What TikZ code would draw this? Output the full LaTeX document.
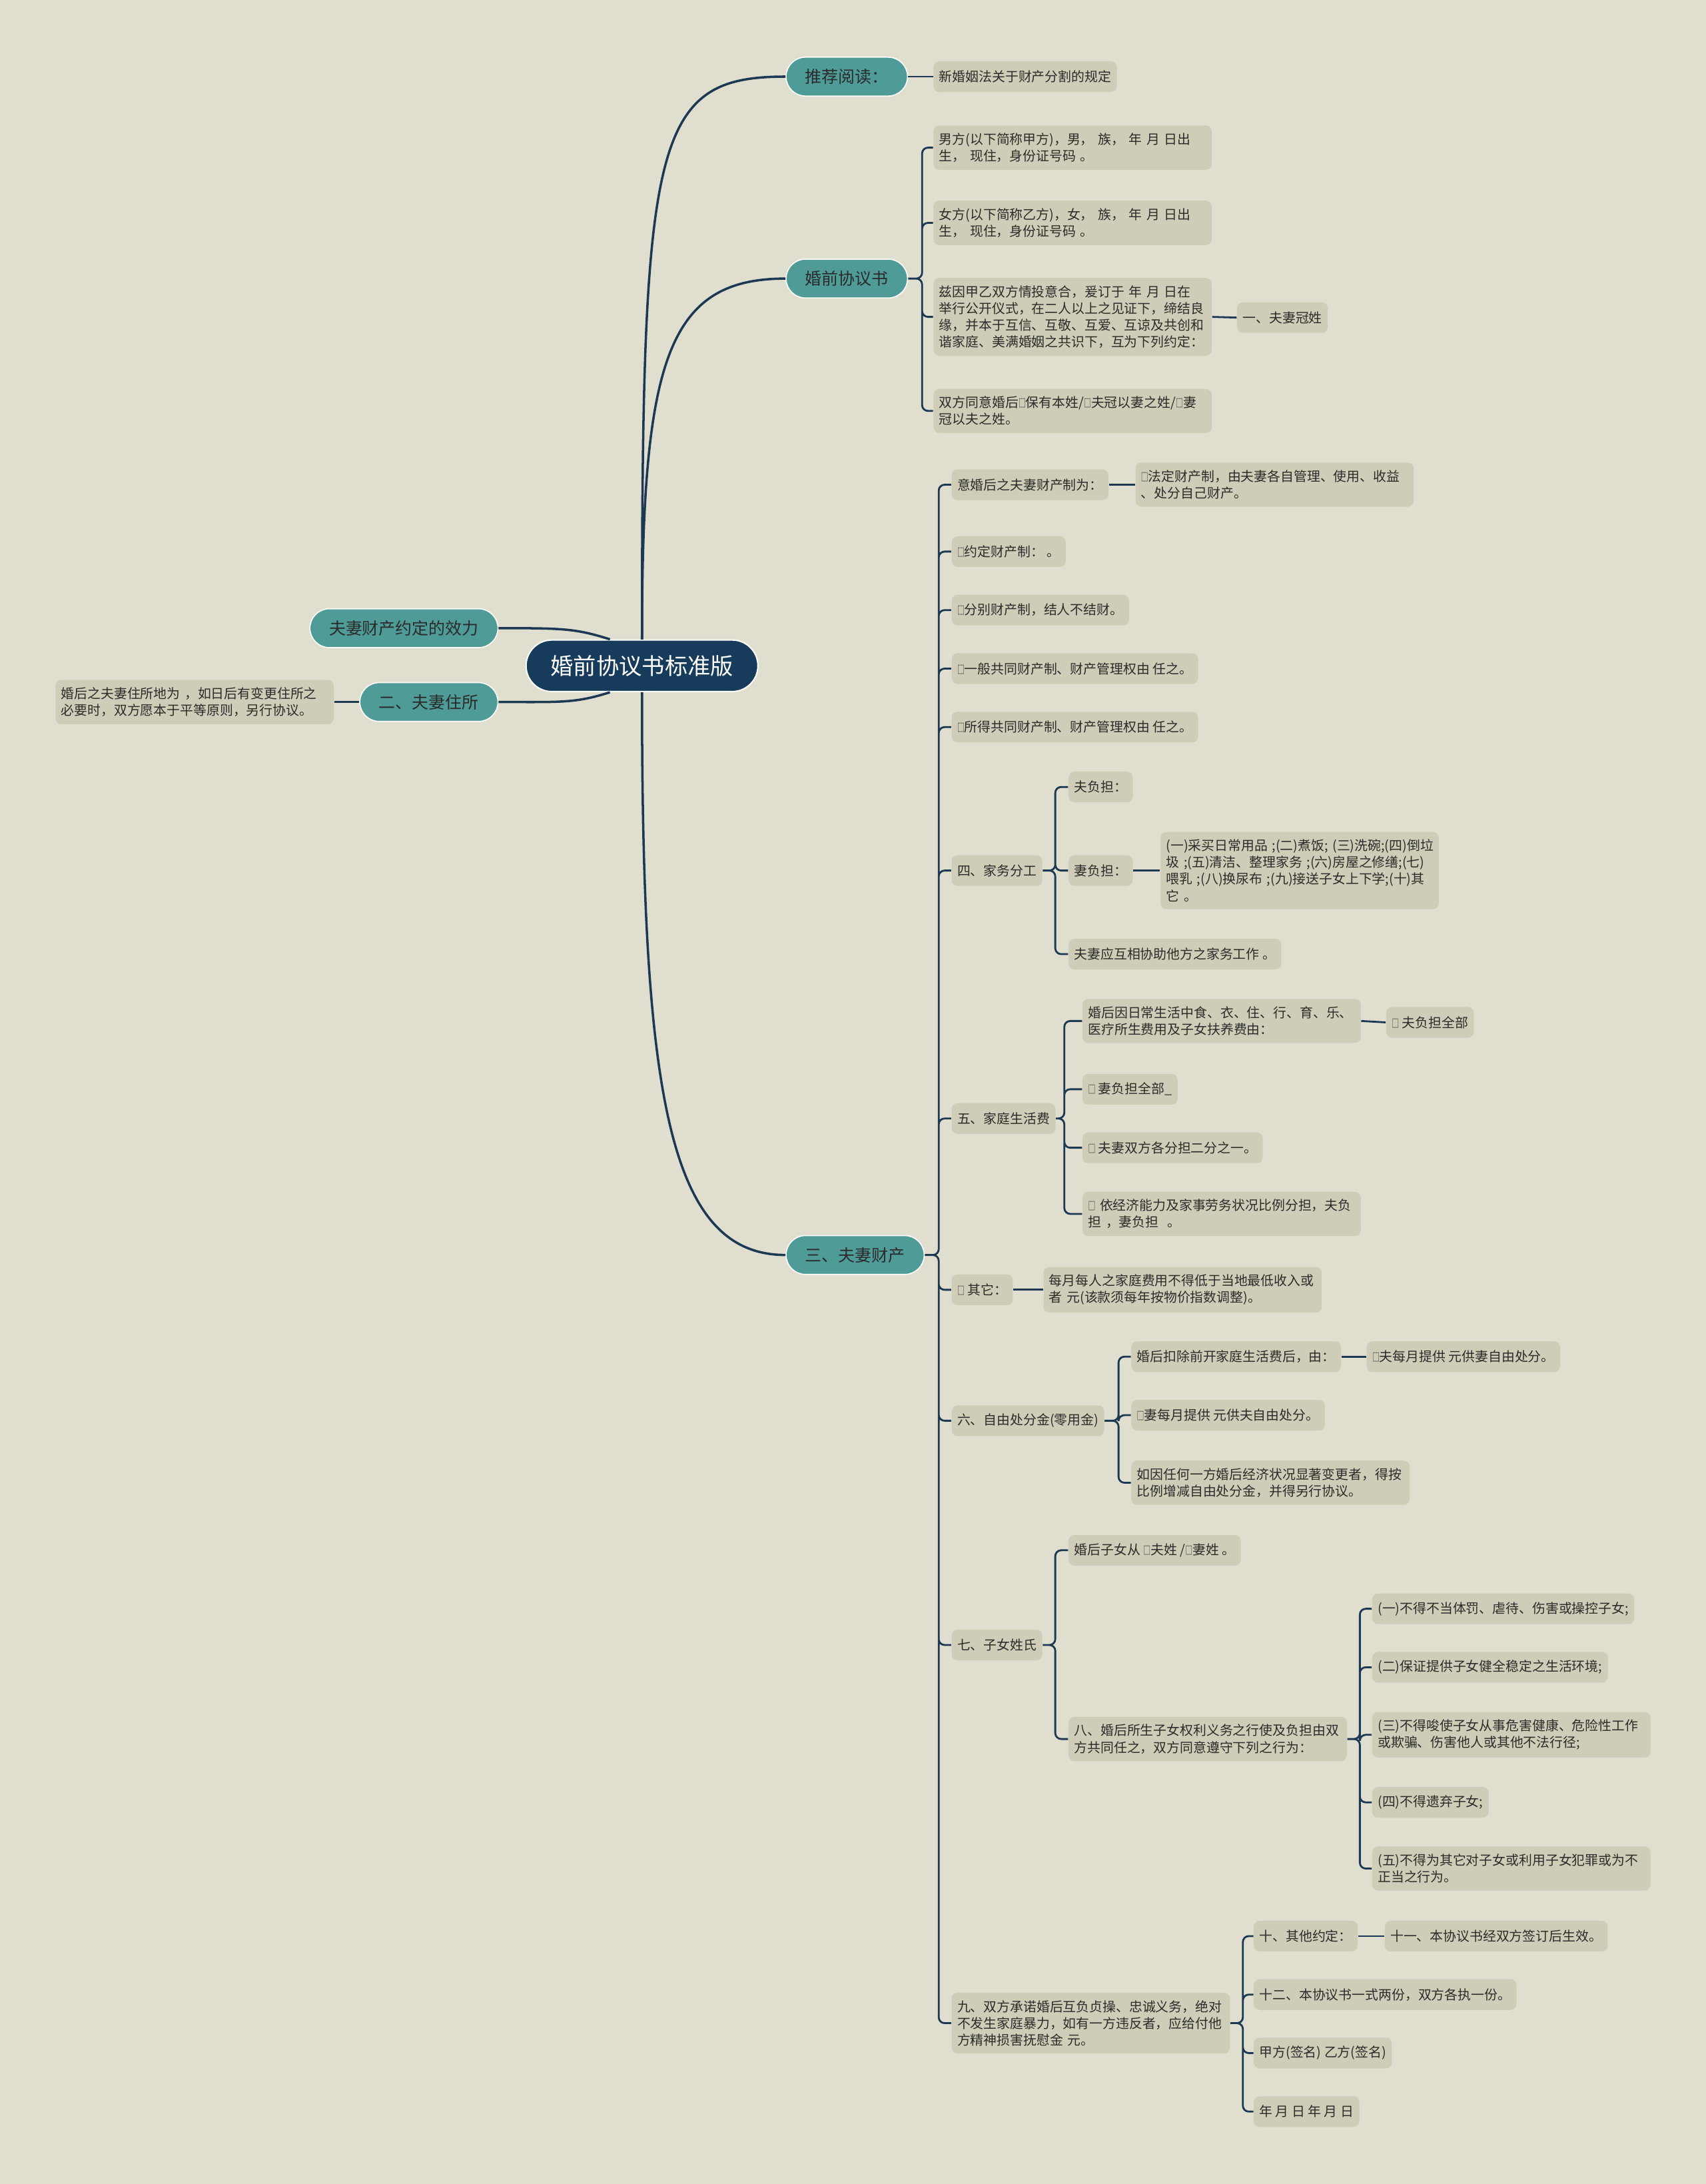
\documentclass[tikz,border=0pt]{standalone}
\usepackage{fontspec}
\setmainfont{Noto Sans CJK SC}
\usepackage{xcolor}
\usepackage{graphicx}
\usetikzlibrary{positioning}

\definecolor{paper}{HTML}{E0DFCF}
\definecolor{leafbg}{HTML}{CFCDB7}
\definecolor{topicbg}{HTML}{4E9B98}
\definecolor{navy}{HTML}{173B5B}
\definecolor{wire}{HTML}{1D3853}
\definecolor{ink}{HTML}{2B2B2B}

% 勾选框
\newcommand{\tickbox}{\scalebox{0.55}[0.85]{□}}

\begin{document}
\begin{tikzpicture}[x=0.5946pt, y=-0.5946pt]
    % ================= 样式定义 =================
    \tikzset{
        % 根节点:深蓝胶囊
        rootnode/.style={rounded corners=11pt, fill=navy, draw=white!85!paper, line width=0.6pt,
            text=white, font=\fontsize{9.75}{11}\selectfont, minimum height=22pt, inner xsep=10.5pt},
        % 主题:青色胶囊
        topic/.style={rounded corners=8.3pt, fill=topicbg, draw=white!80!paper, line width=0.5pt,
            text=ink, font=\fontsize{7.1}{8.5}\selectfont, minimum height=16.6pt, inner xsep=8.2pt},
        % 叶子:灰绿圆角框
        leaf/.style={rounded corners=2.5pt, fill=leafbg, text=ink, align=left,
            font=\fontsize{5.65}{7.14}\selectfont, minimum height=13.1pt, inner xsep=2.4pt, inner ysep=3.2pt},
        wide/.style={leaf, text width=114pt},
        % 连线
        link/.style={draw=wire, line width=0.8pt, rounded corners=2.5pt},
        trunk/.style={draw=wire, line width=1pt}
    }

    % ================= 0. 画布 =================
    \fill[paper] (0,0) rectangle (1225,1568);
    \useasboundingbox (0,0) rectangle (1225,1568);

    % ================= 1. 根节点与主题 =================
    \node[rootnode] (root) at (461,478) {婚前协议书标准版};
    \node[topic, anchor=west] (read) at (564,55) {推荐阅读：};
    \node[topic, anchor=west] (pre) at (564,200) {婚前协议书};
    \node[topic, anchor=west] (prop) at (564,901) {三、夫妻财产};
    \node[topic, anchor=east] (eff) at (358,451) {夫妻财产约定的效力};
    \node[topic, anchor=east] (home) at (358,504) {二、夫妻住所};

    \draw[trunk] (root.north) .. controls +(0,-360) and +(-95,0) .. (read.west);
    \draw[trunk] (root.north) .. controls +(0,-200) and +(-85,0) .. (pre.west);
    \draw[trunk] (root.south) .. controls +(0,285) and +(-85,0) .. (prop.west);
    \draw[trunk] (eff.east) .. controls +(45,0) and +(-25,-8) .. ([xshift=-13.7pt]root.north);
    \draw[trunk] (home.east) .. controls +(45,0) and +(-25,8) .. ([xshift=-13.7pt]root.south);

    % ================= 2. 推荐阅读 / 夫妻住所 =================
    \node[leaf, anchor=west] (readA) at (670,55) {新婚姻法关于财产分割的规定};
    \draw[link] (read.east) -- (readA.west);

    \node[wide, anchor=east] (homeA) at (240,504) {婚后之夫妻住所地为 ，如日后有变更住所之\\必要时，双方愿本于平等原则，另行协议。};
    \draw[link] (home.west) -- (homeA.east);

    % ================= 3. 婚前协议书 =================
    \node[wide, anchor=west] (preA) at (670,106) {男方(以下简称甲方)，男，\ 族，\ 年 月 日出\\生，\ 现住，身份证号码 。};
    \node[wide, anchor=west] (preB) at (670,160) {女方(以下简称乙方)，女，\ 族，\ 年 月 日出\\生，\ 现住，身份证号码 。};
    \node[wide, anchor=west] (preC) at (670,227.5) {兹因甲乙双方情投意合，爰订于 年 月 日在\\举行公开仪式，在二人以上之见证下，缔结良\\缘，并本于互信、互敬、互爱、互谅及共创和\\谐家庭、美满婚姻之共识下，互为下列约定：};
    \node[wide, anchor=west] (preD) at (670,295) {双方同意婚后\tickbox 保有本姓/\tickbox 夫冠以妻之姓/\tickbox 妻\\冠以夫之姓。};
    \node[leaf, anchor=west] (preC1) at (888,228) {一、夫妻冠姓};

    \draw[link] (pre.east) -- ++(10,0) |- (preA.west)
                (pre.east) -- ++(10,0) |- (preB.west)
                (pre.east) -- ++(10,0) |- (preC.west)
                (pre.east) -- ++(10,0) |- (preD.west);
    \draw[link] (preC.east) -- (preC1.west);

    % ================= 4. 夫妻财产 =================
    \node[leaf, anchor=west] (sys) at (683,348) {意婚后之夫妻财产制为：};
    \node[wide, anchor=west] (sysA) at (815,348) {\tickbox 法定财产制，由夫妻各自管理、使用、收益\\、处分自己财产。};
    \node[leaf, anchor=west] (agree) at (683,396) {\tickbox 约定财产制：\ 。};
    \node[leaf, anchor=west] (sep) at (683,438) {\tickbox 分别财产制，结人不结财。};
    \node[leaf, anchor=west] (gen) at (683,480) {\tickbox 一般共同财产制、财产管理权由 任之。};
    \node[leaf, anchor=west] (inc) at (683,522) {\tickbox 所得共同财产制、财产管理权由 任之。};

    % 四、家务分工
    \node[leaf, anchor=west] (chores) at (683,625) {四、家务分工};
    \node[leaf, anchor=west] (husb) at (767,565) {夫负担：};
    \node[leaf, anchor=west] (wife) at (767,625) {妻负担：};
    \node[wide, anchor=west] (wifeA) at (833,625) {(一)采买日常用品~;(二)煮饭;~(三)洗碗;(四)倒垃\\圾~;(五)清洁、整理家务~;(六)房屋之修缮;(七)\\喂乳~;(八)换尿布~;(九)接送子女上下学;(十)其\\它 。};
    \node[leaf, anchor=west] (help) at (767,685) {夫妻应互相协助他方之家务工作 。};

    % 五、家庭生活费
    \node[leaf, anchor=west] (cost) at (683,803) {五、家庭生活费};
    \node[wide, anchor=west] (costA) at (777,733) {婚后因日常生活中食、衣、住、行、育、乐、\\医疗所生费用及子女扶养费由：};
    \node[leaf, anchor=west] (costA1) at (995,734) {\tickbox\ 夫负担全部};
    \node[leaf, anchor=west] (costB) at (777,782) {\tickbox\ 妻负担全部\_};
    \node[leaf, anchor=west] (costC) at (777,824) {\tickbox\ 夫妻双方各分担二分之一。};
    \node[wide, anchor=west] (costD) at (777,871.5) {\tickbox\ 依经济能力及家事劳务状况比例分担，夫负\\担\ ，妻负担\ \ 。};

    % 其它
    \node[leaf, anchor=west] (other) at (683,926) {\tickbox\ 其它：};
    \node[wide, anchor=west] (otherA) at (749,926) {每月每人之家庭费用不得低于当地最低收入或\\者 元(该款须每年按物价指数调整)。};

    % 六、自由处分金
    \node[leaf, anchor=west] (pin) at (683,1020) {六、自由处分金(零用金)};
    \node[leaf, anchor=west] (pinA) at (812,974) {婚后扣除前开家庭生活费后，由：};
    \node[leaf, anchor=west] (pinA1) at (981,974) {\tickbox 夫每月提供 元供妻自由处分。};
    \node[leaf, anchor=west] (pinB) at (812,1016) {\tickbox 妻每月提供 元供夫自由处分。};
    \node[wide, anchor=west] (pinC) at (812,1064.5) {如因任何一方婚后经济状况显著变更者，得按\\比例增减自由处分金，并得另行协议。};

    % 七、子女姓氏
    \node[leaf, anchor=west] (kid) at (683,1181) {七、子女姓氏};
    \node[leaf, anchor=west] (kidA) at (767,1113) {婚后子女从 \tickbox 夫姓 /\tickbox 妻姓 。};
    \node[wide, anchor=west] (kidB) at (767,1248.5) {八、婚后所生子女权利义务之行使及负担由双\\方共同任之，双方同意遵守下列之行为：};
    \node[leaf, anchor=west] (kidB1) at (985,1155) {(一)不得不当体罚、虐待、伤害或操控子女;};
    \node[leaf, anchor=west] (kidB2) at (985,1197) {(二)保证提供子女健全稳定之生活环境;};
    \node[wide, anchor=west] (kidB3) at (985,1245.5) {(三)不得唆使子女从事危害健康、危险性工作\\或欺骗、伤害他人或其他不法行径;};
    \node[leaf, anchor=west] (kidB4) at (985,1294) {(四)不得遗弃子女;};
    \node[wide, anchor=west] (kidB5) at (985,1341.5) {(五)不得为其它对子女或利用子女犯罪或为不\\正当之行为。};

    % 九、双方承诺
    \node[wide, anchor=west] (vow) at (683,1452.5) {九、双方承诺婚后互负贞操、忠诚义务，绝对\\不发生家庭暴力，如有一方违反者，应给付他\\方精神损害抚慰金 元。};
    \node[leaf, anchor=west] (vowA) at (900,1390) {十、其他约定：};
    \node[leaf, anchor=west] (vowA1) at (994,1390) {十一、本协议书经双方签订后生效。};
    \node[leaf, anchor=west] (vowB) at (900,1432) {十二、本协议书一式两份，双方各执一份。};
    \node[leaf, anchor=west] (vowC) at (900,1474) {甲方(签名) 乙方(签名)};
    \node[leaf, anchor=west] (vowD) at (900,1516) {年 月 日 年 月 日};

    % 三、夫妻财产 的分支
    \draw[link] (prop.east) -- ++(10,0) |- (sys.west)
                (prop.east) -- ++(10,0) |- (agree.west)
                (prop.east) -- ++(10,0) |- (sep.west)
                (prop.east) -- ++(10,0) |- (gen.west)
                (prop.east) -- ++(10,0) |- (inc.west)
                (prop.east) -- ++(10,0) |- (chores.west)
                (prop.east) -- ++(10,0) |- (cost.west)
                (prop.east) -- ++(10,0) |- (other.west)
                (prop.east) -- ++(10,0) |- (pin.west)
                (prop.east) -- ++(10,0) |- (kid.west)
                (prop.east) -- ++(10,0) |- (vow.west);
    \draw[link] (sys.east) -- (sysA.west);
    \draw[link] (chores.east) -- ++(9,0) |- (husb.west)
                (chores.east) -- ++(9,0) |- (wife.west)
                (chores.east) -- ++(9,0) |- (help.west);
    \draw[link] (wife.east) -- (wifeA.west);
    \draw[link] (cost.east) -- ++(6,0) |- (costA.west)
                (cost.east) -- ++(6,0) |- (costB.west)
                (cost.east) -- ++(6,0) |- (costC.west)
                (cost.east) -- ++(6,0) |- (costD.west);
    \draw[link] (costA.east) -- (costA1.west);
    \draw[link] (other.east) -- (otherA.west);
    \draw[link] (pin.east) -- ++(10,0) |- (pinA.west)
                (pin.east) -- ++(10,0) |- (pinB.west)
                (pin.east) -- ++(10,0) |- (pinC.west);
    \draw[link] (pinA.east) -- (pinA1.west);
    \draw[link] (kid.east) -- ++(9,0) |- (kidA.west)
                (kid.east) -- ++(9,0) |- (kidB.west);
    \draw[link] (kidB.east) -- ++(9,0) |- (kidB1.west)
                (kidB.east) -- ++(9,0) |- (kidB2.west)
                (kidB.east) -- ++(9,0) |- (kidB3.west)
                (kidB.east) -- ++(9,0) |- (kidB4.west)
                (kidB.east) -- ++(9,0) |- (kidB5.west);
    \draw[link] (vow.east) -- ++(9,0) |- (vowA.west)
                (vow.east) -- ++(9,0) |- (vowB.west)
                (vow.east) -- ++(9,0) |- (vowC.west)
                (vow.east) -- ++(9,0) |- (vowD.west);
    \draw[link] (vowA.east) -- (vowA1.west);

\end{tikzpicture}
\end{document}
